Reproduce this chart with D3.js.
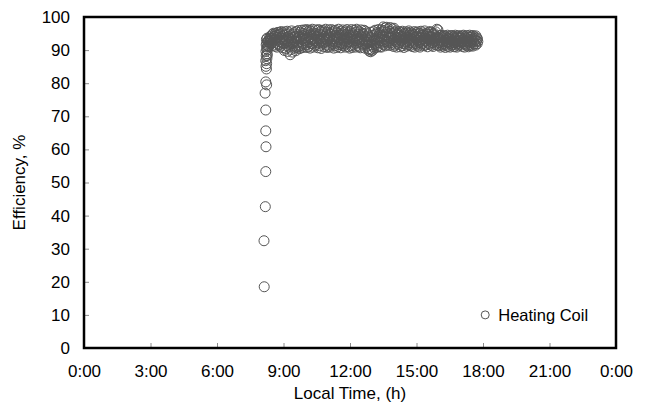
<!DOCTYPE html>
<html>
<head>
<meta charset="utf-8">
<script src="https://cdn.jsdelivr.net/npm/d3@7"></script>
<style>
  body { margin: 0; background: #fff; }
  #efficiencyChart text { font-family: "Liberation Sans", Arial, sans-serif; fill: #000; }
</style>
</head>
<body>
<div id="efficiencyChart"></div>
<script>
// Start-up readings while the coil comes on (hour of day, efficiency %)
var rampHours = [8.13, 8.12, 8.18, 8.20, 8.21, 8.20, 8.20, 8.17, 8.24, 8.20, 8.23, 8.21, 8.24, 8.20, 8.25, 8.22, 8.26, 8.21, 8.24, 8.27, 8.22, 8.25, 8.28, 8.23, 8.26];
var rampEff = [18.5, 32.4, 42.7, 53.3, 60.8, 65.6, 71.9, 77.0, 79.5, 80.4, 84.3, 85.1, 85.9, 86.8, 87.4, 88.3, 88.9, 89.6, 90.4, 90.9, 91.6, 92.1, 92.7, 93.2, 93.6];

// Steady running, one reading a minute from 8:16 to 17:46
var steadyStart = 8 + 16 / 60;
var steadyStep = 1 / 60;
var steadyEff = [
    // 8:16 - 8:59
    88.4, 90.1, 91.3, 92.6, 91.0, 93.2, 92.1, 94.0, 92.7, 93.5, 91.8, 94.3, 93.0, 92.2, 94.8, 93.6, 91.5, 95.1, 92.9, 94.2, 93.3, 91.2,
    95.0, 92.4, 94.6, 93.8, 90.9, 95.3, 92.0, 93.9, 94.7, 91.6, 95.4, 93.1, 92.5, 94.9, 91.1, 93.7, 95.6, 92.3, 94.1, 90.7, 95.2, 93.4,
    // 9:00 - 9:59
    91.9, 94.5, 89.9, 93.0, 95.5, 92.2, 90.5, 94.8, 93.3, 91.4, 95.7, 89.6, 92.8, 94.1, 90.9, 93.6, 95.2, 91.7, 88.6, 94.4,
    92.5, 90.2, 95.8, 93.1, 89.4, 92.0, 94.9, 91.2, 93.8, 95.3, 90.6, 92.7, 94.2, 89.8, 95.6, 91.5, 93.4, 90.8, 94.6, 92.3,
    95.9, 91.0, 93.9, 90.4, 94.0, 92.6, 95.4, 91.3, 93.2, 96.0, 90.7, 94.3, 92.1, 95.1, 91.8, 93.5, 96.1, 90.9, 94.7, 92.9,
    // 10:00 - 10:59
    95.8, 91.6, 93.7, 96.2, 90.8, 94.4, 92.3, 95.5, 91.1, 93.9, 96.0, 92.6, 90.6, 94.8, 93.2, 95.7, 91.9, 94.1, 96.3, 92.0,
    93.5, 90.9, 95.2, 92.8, 94.6, 91.4, 96.1, 93.0, 95.0, 91.7, 94.2, 92.4, 95.9, 90.7, 93.8, 96.2, 92.1, 94.9, 91.3, 93.4,
    95.6, 92.7, 90.5, 94.5, 96.0, 91.8, 93.1, 95.3, 92.2, 94.0, 91.0, 95.8, 93.6, 92.5, 96.3, 91.5, 94.7, 93.3, 90.8, 95.4,
    // 11:00 - 11:59
    92.9, 94.3, 91.2, 96.1, 93.7, 90.9, 95.1, 92.4, 94.8, 91.6, 96.2, 93.0, 95.5, 91.9, 94.0, 92.7, 90.6, 95.9, 93.4, 91.4,
    94.6, 96.0, 92.1, 93.8, 90.8, 95.3, 92.6, 94.2, 91.1, 96.3, 93.2, 95.0, 91.7, 94.5, 92.3, 90.7, 95.7, 93.6, 91.5, 94.9,
    96.1, 92.0, 93.1, 95.4, 91.3, 94.1, 92.8, 90.9, 95.8, 93.5, 91.8, 94.7, 96.2, 92.2, 93.9, 91.0, 95.2, 92.5, 94.4, 90.6,
    // 12:00 - 12:59
    95.6, 92.4, 94.0, 91.3, 96.2, 93.3, 90.8, 95.0, 92.7, 94.5, 91.6, 96.0, 93.7, 92.1, 95.3, 90.9, 94.2, 92.9, 96.3, 91.4,
    93.5, 95.8, 92.3, 94.7, 91.0, 93.1, 95.5, 92.6, 90.7, 94.3, 96.1, 91.8, 93.9, 95.1, 92.0, 94.9, 91.5, 93.2, 96.0, 92.8,
    90.6, 94.1, 95.7, 91.9, 93.6, 92.4, 95.2, 91.2, 94.6, 93.0, 90.4, 92.2, 89.7, 94.0, 90.1, 95.4, 89.5, 91.6, 93.8, 90.3,
    // 13:00 - 13:59
    92.5, 89.9, 94.4, 91.1, 95.6, 90.6, 93.4, 92.0, 96.0, 91.5, 94.8, 93.1, 90.8, 95.3, 92.7, 94.1, 91.2, 96.2, 93.7, 92.3,
    95.0, 91.0, 94.5, 92.9, 96.1, 90.9, 93.8, 95.5, 92.1, 94.2, 97.0, 91.6, 93.3, 95.9, 92.6, 96.7, 91.3, 94.6, 93.0, 96.9,
    92.4, 95.2, 91.8, 94.0, 96.5, 92.8, 93.6, 95.7, 91.4, 96.8, 94.3, 92.2, 95.1, 93.5, 91.7, 96.4, 92.9, 94.9, 91.1, 96.6,
    // 14:00 - 14:59
    93.2, 95.4, 91.5, 94.1, 92.6, 95.8, 90.9, 93.7, 94.8, 92.0, 95.1, 91.7, 93.4, 95.6, 92.3, 94.5, 91.0, 93.9, 95.3, 92.8,
    94.2, 91.3, 95.7, 93.0, 92.1, 94.7, 90.8, 95.0, 93.5, 91.9, 94.3, 95.5, 92.5, 93.8, 91.2, 95.2, 92.9, 94.0, 91.6, 95.8,
    93.3, 92.2, 94.9, 91.4, 95.4, 93.6, 92.7, 94.4, 91.1, 95.0, 93.1, 91.8, 94.6, 92.4, 95.6, 90.9, 93.9, 94.8, 92.0, 95.3,
    // 15:00 - 15:59
    91.7, 94.2, 92.9, 95.5, 91.2, 93.6, 94.9, 92.3, 95.1, 90.9, 93.8, 92.6, 95.7, 91.5, 94.4, 93.0, 91.9, 95.2, 92.1, 94.6,
    93.4, 91.3, 95.8, 92.8, 94.0, 91.6, 93.5, 95.0, 92.4, 94.7, 91.0, 93.2, 95.4, 92.0, 94.3, 91.8, 93.9, 95.6, 92.7, 94.1,
    91.4, 95.3, 93.1, 92.2, 94.8, 91.1, 93.7, 95.1, 92.5, 94.5, 91.7, 93.3, 95.5, 92.9, 94.0, 96.3, 91.5, 93.6, 96.1, 92.1,
    // 16:00 - 16:59
    93.8, 91.4, 94.3, 92.2, 93.1, 90.9, 94.5, 92.7, 91.6, 93.9, 92.0, 94.2, 91.2, 93.4, 92.5, 94.4, 91.8, 93.0, 90.8, 94.1,
    92.9, 91.5, 93.7, 92.3, 94.5, 91.1, 93.3, 92.6, 94.0, 91.9, 93.6, 90.9, 94.3, 92.1, 93.2, 91.4, 94.4, 92.8, 91.7, 93.9,
    92.4, 94.1, 91.0, 93.5, 92.2, 94.5, 91.6, 93.1, 92.7, 90.9, 94.2, 92.0, 93.8, 91.3, 94.4, 92.5, 91.8, 93.6, 92.9, 94.0,
    // 17:00 - 17:46
    91.5, 93.7, 92.3, 94.3, 91.1, 93.0, 92.6, 94.5, 91.9, 93.4, 90.9, 94.1, 92.1, 93.8, 91.6, 92.8, 94.4, 91.3, 93.5, 92.4,
    94.0, 91.0, 93.2, 92.7, 94.5, 91.7, 93.9, 92.2, 91.4, 94.2, 92.9, 93.3, 91.2, 94.4, 92.5, 93.6, 91.8, 94.0, 92.0, 93.1,
    91.5, 94.3, 92.8, 93.7, 91.9, 93.4, 92.6
];

var seriesName = "Heating Coil";
var xTicks = [0, 3, 6, 9, 12, 15, 18, 21, 24];
var xTickLabels = ["0:00", "3:00", "6:00", "9:00", "12:00", "15:00", "18:00", "21:00", "0:00"];
var yTicks = [0, 10, 20, 30, 40, 50, 60, 70, 80, 90, 100];

// Put both sets of readings together as {h, eff}
var readings = rampHours.map(function (h, i) { return { h: h, eff: rampEff[i] }; })
    .concat(steadyEff.map(function (e, i) { return { h: steadyStart + i * steadyStep, eff: e }; }));

var markColor = "#555";

/*   Chart size   */
var margin = { top: 17, right: 30, bottom: 69, left: 84 },
    width = 646 - margin.left - margin.right,
    height = 417 - margin.top - margin.bottom;

var svg = d3.select("#efficiencyChart")
    .append("svg")
    .attr("width", width + margin.left + margin.right)
    .attr("height", height + margin.top + margin.bottom)
    .append("g")
    .attr("transform", "translate(" + margin.left + "," + margin.top + ")");

/*   Axes   */
var x = d3.scaleLinear()
    .domain([0, 24])
    .range([0, width]);

var y = d3.scaleLinear()
    .domain([0, 100])
    .range([height, 0]);

var xAxis = svg.append("g")
    .attr("transform", "translate(0," + height + ")")
    .call(d3.axisBottom(x)
        .tickValues(xTicks)
        .tickFormat(function (d, i) { return xTickLabels[i]; })
        .tickSize(-5)
        .tickPadding(17));

var yAxis = svg.append("g")
    .call(d3.axisLeft(y)
        .tickValues(yTicks)
        .tickSize(-5)
        .tickPadding(14));

[xAxis, yAxis].forEach(function (ax) {
    ax.attr("font-size", 17).attr("font-family", null);
    ax.select(".domain").remove();
    ax.selectAll(".tick line").attr("stroke", "#8c8c8c");
});

// Axis titles
svg.append("text")
    .attr("x", width / 2)
    .attr("y", height + 51)
    .attr("text-anchor", "middle")
    .attr("font-size", 17)
    .text("Local Time, (h)");

svg.append("text")
    .attr("transform", "translate(" + (25 - margin.left) + "," + (height / 2) + ") rotate(-90)")
    .attr("text-anchor", "middle")
    .attr("font-size", 17)
    .text("Efficiency, %");

/*   Points   */
svg.append("g")
    .selectAll("circle")
    .data(readings)
    .enter()
    .append("circle")
    .attr("cx", function (d) { return x(d.h); })
    .attr("cy", function (d) { return y(d.eff); })
    .attr("r", 5)
    .attr("fill", "none")
    .attr("stroke", markColor)
    .attr("stroke-width", 1);

// Plot frame
svg.append("rect")
    .attr("width", width)
    .attr("height", height)
    .attr("fill", "none")
    .attr("stroke", "#000")
    .attr("stroke-width", 2.5);

/*   Legend   */
var legend = svg.append("g")
    .attr("transform", "translate(" + x(18.1) + "," + y(10) + ")");

legend.append("circle")
    .attr("r", 4)
    .attr("fill", "none")
    .attr("stroke", markColor)
    .attr("stroke-width", 1);

legend.append("text")
    .attr("x", 13)
    .attr("dy", "0.36em")
    .attr("font-size", 16.5)
    .text(seriesName);
</script>
</body>
</html>
